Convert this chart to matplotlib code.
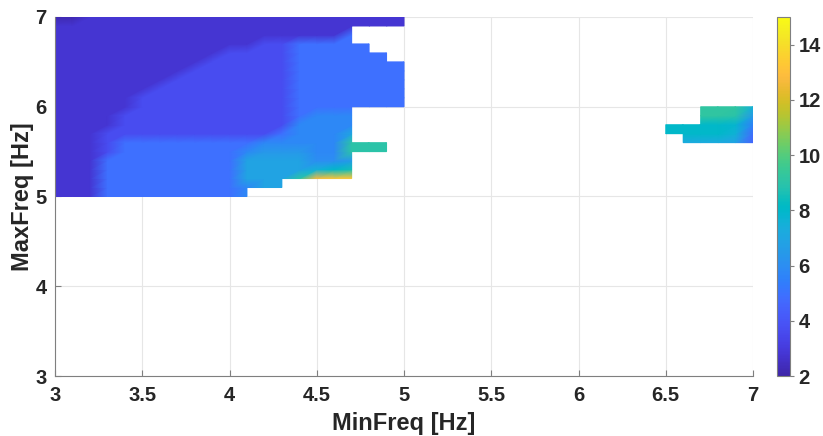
import numpy as np
import matplotlib
matplotlib.use('Agg')
import matplotlib.pyplot as plt
import matplotlib.tri as mtri
from matplotlib.colors import LinearSegmentedColormap

nan = np.nan

# grid of the surface (step 0.1 Hz)
min_freq = np.round(np.arange(3.0, 7.0001, 0.1), 1)
max_freq = np.round(np.arange(3.0, 7.0001, 0.1), 1)

# left block: MinFreq 3.0..5.0, MaxFreq rows from 7.0 down to 5.0
left_x = np.round(np.arange(3.0, 5.0001, 0.1), 1)
left_y = np.round(np.arange(7.0, 4.9999, -0.1), 1)
left_z = [
    [2.2, 2.2, 2.8, 2.8, 2.8, 2.8, 2.8, 2.8, 2.8, 2.8, 2.8, 2.8, 2.8, 2.8, 2.8, 2.8, 2.8, 2.8, 2.8, 2.8, 2.8],
    [2.8, 2.8, 2.8, 2.8, 2.8, 2.8, 2.8, 2.8, 2.8, 2.8, 2.8, 2.8, 2.8, 2.8, 2.8, 2.8, 2.8, 2.8, 2.8, 2.8, 2.8],
    [2.8, 2.8, 2.8, 2.8, 2.8, 2.8, 2.8, 2.8, 2.8, 2.8, 2.8, 2.8, 2.8, 2.8, 2.8, 2.8, 2.8, 4.9, nan, nan, nan],
    [2.8, 2.8, 2.8, 2.8, 2.8, 2.8, 2.8, 2.8, 2.8, 2.8, 2.8, 2.8, 3.65, 3.65, 4.9, 4.9, 4.9, 4.9, 4.9, nan, nan],
    [2.8, 2.8, 2.8, 2.8, 2.8, 2.8, 2.8, 2.8, 2.8, 2.8, 3.65, 3.65, 3.65, 3.65, 4.9, 4.9, 4.9, 4.9, 4.9, 4.9, nan],
    [2.8, 2.8, 2.8, 2.8, 2.8, 2.8, 2.8, 2.8, 2.8, 3.65, 3.65, 3.65, 3.65, 3.65, 4.9, 4.9, 4.9, 4.9, 4.9, 4.9, 4.9],
    [2.8, 2.8, 2.8, 2.8, 2.8, 2.8, 2.8, 2.8, 3.65, 3.65, 3.65, 3.65, 3.65, 3.65, 4.9, 4.9, 4.9, 4.9, 4.9, 4.9, 4.9],
    [2.8, 2.8, 2.8, 2.8, 2.8, 2.8, 2.8, 3.65, 3.65, 3.65, 3.65, 3.65, 3.65, 3.65, 4.9, 4.9, 4.9, 4.9, 4.9, 4.9, 4.9],
    [2.8, 2.8, 2.8, 2.8, 2.8, 2.8, 3.65, 3.65, 3.65, 3.65, 3.65, 3.65, 3.65, 3.65, 4.9, 4.9, 4.9, 4.9, 4.9, 4.9, 4.9],
    [2.8, 2.8, 2.8, 2.8, 2.8, 3.65, 3.65, 3.65, 3.65, 3.65, 3.65, 3.65, 3.65, 3.65, 4.9, 4.9, 4.9, 4.9, 4.9, 4.9, 4.9],
    [2.8, 2.8, 2.8, 2.8, 2.8, 3.65, 3.65, 3.65, 3.65, 3.65, 3.65, 3.65, 3.65, 3.65, 4.9, 4.9, 4.9, 4.9, 4.9, 4.9, 4.9],
    [2.8, 2.8, 2.8, 2.8, 3.65, 3.65, 3.65, 3.65, 3.65, 3.65, 3.65, 3.65, 3.65, 3.65, 4.9, 5.8, 5.8, 5.8, nan, nan, nan],
    [2.8, 2.8, 2.8, 2.8, 3.65, 3.65, 3.65, 3.65, 3.65, 3.65, 3.65, 3.65, 3.65, 3.65, 5.8, 5.8, 5.8, 5.8, nan, nan, nan],
    [2.8, 2.8, 2.8, 3.65, 3.65, 3.65, 3.65, 3.65, 3.65, 3.65, 3.65, 3.65, 3.65, 4.9, 5.8, 5.8, 5.8, 7.0, nan, nan, nan],
    [2.8, 2.8, 2.8, 3.65, 4.9, 4.9, 4.9, 4.9, 4.9, 4.9, 4.9, 4.9, 5.8, 5.8, 5.8, 5.8, 5.8, 9.0, 9.0, 9.0, nan],
    [2.8, 2.8, 2.8, 3.65, 4.9, 4.9, 4.9, 4.9, 4.9, 4.9, 4.9, 5.8, 6.4, 6.4, 6.4, 5.8, 5.8, 9.0, 9.0, 9.0, nan],
    [2.8, 2.8, 2.8, 4.9, 4.9, 4.9, 4.9, 4.9, 4.9, 4.9, 4.9, 6.9, 6.9, 6.9, 6.9, 6.0, 6.0, 6.5, nan, nan, nan],
    [2.8, 2.8, 2.8, 4.9, 4.9, 4.9, 4.9, 4.9, 4.9, 4.9, 4.9, 6.9, 6.9, 6.9, 6.9, 7.5, 8.0, 8.5, nan, nan, nan],
    [2.8, 2.8, 2.8, 4.9, 4.9, 4.9, 4.9, 4.9, 4.9, 4.9, 4.9, 6.9, 6.9, 6.9, 9.0, 12.8, 13.2, 13.2, nan, nan, nan],
    [2.8, 2.8, 2.8, 4.9, 4.9, 4.9, 4.9, 4.9, 4.9, 4.9, 4.9, 5.8, 6.9, 6.9, nan, nan, nan, nan, nan, nan, nan],
    [2.8, 2.8, 2.8, 4.9, 4.9, 4.9, 4.9, 4.9, 4.9, 4.9, 4.9, 5.8, nan, nan, nan, nan, nan, nan, nan, nan, nan],
]

# right block: MinFreq 6.5..7.0, MaxFreq rows from 6.0 down to 5.6
right_x = np.round(np.arange(6.5, 7.0001, 0.1), 1)
right_y = np.round(np.arange(6.0, 5.5999, -0.1), 1)
right_z = [
    [nan, nan, 9.2, 9.2, 9.2, 7.5],
    [nan, nan, 9.2, 9.2, 9.0, 6.5],
    [8.0, 8.0, 8.0, 8.0, 7.8, 5.5],
    [8.0, 8.0, 8.0, 8.0, 7.6, 4.8],
    [nan, 7.2, 7.2, 7.2, 6.8, 4.5],
]

parula_rgb = [
    (0.2422, 0.1504, 0.6603), (0.2504, 0.1650, 0.7076), (0.2578, 0.1818, 0.7511), (0.2647, 0.1978, 0.7952),
    (0.2706, 0.2147, 0.8364), (0.2751, 0.2342, 0.8710), (0.2783, 0.2559, 0.8991), (0.2803, 0.2782, 0.9221),
    (0.2813, 0.3006, 0.9414), (0.2810, 0.3228, 0.9579), (0.2795, 0.3447, 0.9717), (0.2760, 0.3667, 0.9829),
    (0.2699, 0.3892, 0.9906), (0.2602, 0.4123, 0.9952), (0.2440, 0.4358, 0.9988), (0.2206, 0.4603, 0.9973),
    (0.1963, 0.4847, 0.9892), (0.1834, 0.5074, 0.9798), (0.1786, 0.5289, 0.9682), (0.1764, 0.5499, 0.9520),
    (0.1687, 0.5703, 0.9359), (0.1540, 0.5902, 0.9218), (0.1460, 0.6091, 0.9079), (0.1380, 0.6276, 0.8973),
    (0.1248, 0.6459, 0.8883), (0.1113, 0.6635, 0.8763), (0.0952, 0.6798, 0.8598), (0.0689, 0.6948, 0.8394),
    (0.0297, 0.7082, 0.8163), (0.0036, 0.7203, 0.7917), (0.0067, 0.7312, 0.7660), (0.0433, 0.7411, 0.7394),
    (0.0964, 0.7500, 0.7120), (0.1408, 0.7584, 0.6842), (0.1717, 0.7670, 0.6554), (0.1938, 0.7758, 0.6251),
    (0.2161, 0.7843, 0.5923), (0.2470, 0.7918, 0.5567), (0.2906, 0.7973, 0.5188), (0.3406, 0.8008, 0.4789),
    (0.3909, 0.8029, 0.4354), (0.4456, 0.8024, 0.3909), (0.5044, 0.7993, 0.3480), (0.5616, 0.7942, 0.3045),
    (0.6174, 0.7876, 0.2612), (0.6720, 0.7793, 0.2227), (0.7242, 0.7698, 0.1910), (0.7738, 0.7598, 0.1646),
    (0.8203, 0.7498, 0.1535), (0.8634, 0.7406, 0.1596), (0.9035, 0.7330, 0.1774), (0.9393, 0.7288, 0.2100),
    (0.9728, 0.7298, 0.2394), (0.9956, 0.7434, 0.2371), (0.9970, 0.7659, 0.2199), (0.9952, 0.7893, 0.2028),
    (0.9892, 0.8136, 0.1885), (0.9786, 0.8386, 0.1766), (0.9676, 0.8639, 0.1643), (0.9610, 0.8890, 0.1537),
    (0.9597, 0.9135, 0.1423), (0.9628, 0.9373, 0.1265), (0.9691, 0.9606, 0.1064), (0.9769, 0.9839, 0.0805),
]
parula = LinearSegmentedColormap.from_list('parula', parula_rgb, N=256)

# put both blocks into the full grid
Z = np.full((len(max_freq), len(min_freq)), nan)
for xs, ys, block in [(left_x, left_y, left_z), (right_x, right_y, right_z)]:
    for r, yv in enumerate(ys):
        j = int(round((yv - 3.0) * 10))
        for c, xv in enumerate(xs):
            i = int(round((xv - 3.0) * 10))
            Z[j, i] = block[r][c]

X, Y = np.meshgrid(min_freq, max_freq)
nx = len(min_freq)
valid = np.isfinite(Z)
tris = []
for j in range(len(max_freq) - 1):
    for i in range(nx - 1):
        if valid[j, i] and valid[j, i + 1] and valid[j + 1, i] and valid[j + 1, i + 1]:
            a = j * nx + i
            b = a + 1
            c = a + nx
            d = c + 1
            tris.append([a, b, d])
            tris.append([a, d, c])
triang = mtri.Triangulation(X.ravel(), Y.ravel(), np.array(tris))
zvals = np.nan_to_num(Z.ravel(), nan=2.0)

plt.rcParams['font.family'] = ['Liberation Sans', 'DejaVu Sans']
plt.rcParams['font.weight'] = 'bold'
txt = '#262626'
axcol = '#7f7f7f'

fig = plt.figure(figsize=(8.23, 4.36), dpi=100)
ax = fig.add_axes([55 / 823, 60 / 436, 698 / 823, 359 / 436])
cax = fig.add_axes([777 / 823, 60 / 436, 13 / 823, 359 / 436])

tpc = ax.tripcolor(triang, zvals, shading='gouraud', cmap=parula, vmin=2, vmax=15)

ax.set_xlim(3, 7)
ax.set_ylim(3, 7)
ax.set_xticks([3, 3.5, 4, 4.5, 5, 5.5, 6, 6.5, 7])
ax.set_xticklabels(['3', '3.5', '4', '4.5', '5', '5.5', '6', '6.5', '7'])
ax.set_yticks([3, 4, 5, 6, 7])
ax.set_axisbelow(True)
ax.grid(True, color='#e6e6e6', linewidth=0.8)
for s in ['top', 'right']:
    ax.spines[s].set_visible(False)
for s in ['left', 'bottom']:
    ax.spines[s].set_color(axcol)
    ax.spines[s].set_linewidth(0.8)
ax.tick_params(direction='in', length=4, color=axcol, labelcolor=txt, labelsize=14.5)
ax.tick_params(axis='x', pad=7)
ax.tick_params(axis='y', pad=6)
ax.set_xlabel('MinFreq [Hz]', fontsize=17, fontweight='bold', color=txt, labelpad=5)
ax.set_ylabel('MaxFreq [Hz]', fontsize=17, fontweight='bold', color=txt, labelpad=1)

cb = fig.colorbar(tpc, cax=cax)
cb.set_ticks([2, 4, 6, 8, 10, 12, 14])
cb.outline.set_edgecolor(axcol)
cb.outline.set_linewidth(0.8)
cax.tick_params(direction='out', length=3, color=axcol, labelcolor=txt, labelsize=14.5, pad=3)

fig.savefig('out.png', dpi=100)
